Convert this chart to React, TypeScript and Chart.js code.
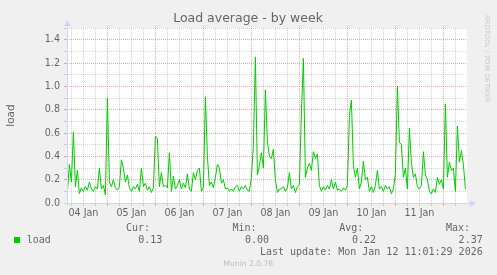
import React, { useEffect, useRef } from 'react';
import { Chart, registerables } from 'chart.js';

Chart.register(...registerables);

// first sample hour (hours after 00:00 on 04 Jan), one sample per hour
const START_HOUR = 4;
const LOAD: number[] = [
  0.09, 0.33, 0.18, 0.61, 0.14, 0.28, 0.08, 0.13, 0.10, 0.14, 0.11, 0.18,
  0.12, 0.10, 0.14, 0.12, 0.30, 0.12, 0.15, 0.07, 0.90, 0.18, 0.14, 0.20,
  0.13, 0.11, 0.14, 0.37, 0.30, 0.18, 0.24, 0.13, 0.10, 0.14, 0.12, 0.16,
  0.10, 0.30, 0.14, 0.17, 0.11, 0.14, 0.09, 0.13, 0.57, 0.55, 0.14, 0.26,
  0.14, 0.15, 0.13, 0.43, 0.10, 0.23, 0.12, 0.15, 0.20, 0.12, 0.17, 0.13,
  0.25, 0.12, 0.10, 0.26, 0.20, 0.28, 0.30, 0.10, 0.13, 0.91, 0.40, 0.15,
  0.18, 0.13, 0.22, 0.33, 0.30, 0.17, 0.20, 0.12, 0.13, 0.10, 0.12, 0.10,
  0.14, 0.15, 0.10, 0.14, 0.12, 0.15, 0.11, 0.10, 0.22, 0.50, 1.25, 0.24,
  0.32, 0.43, 0.30, 0.97, 0.53, 0.40, 0.38, 0.46, 0.20, 0.09, 0.12, 0.12,
  0.14, 0.10, 0.13, 0.26, 0.12, 0.15, 0.09, 0.14, 0.16, 0.77, 1.24, 0.22,
  0.30, 0.34, 0.28, 0.44, 0.38, 0.42, 0.15, 0.10, 0.14, 0.11, 0.15, 0.12,
  0.20, 0.12, 0.18, 0.11, 0.12, 0.10, 0.13, 0.11, 0.15, 0.75, 0.88, 0.32,
  0.22, 0.30, 0.12, 0.18, 0.36, 0.20, 0.22, 0.10, 0.14, 0.09, 0.15, 0.28,
  0.12, 0.14, 0.10, 0.15, 0.12, 0.14, 0.08, 0.12, 0.25, 1.00, 0.52, 0.50,
  0.22, 0.30, 0.12, 0.64, 0.35, 0.22, 0.25, 0.14, 0.12, 0.15, 0.44, 0.24,
  0.20, 0.10, 0.08, 0.12, 0.09, 0.22, 0.16, 0.20, 0.12, 0.85, 0.22, 0.35,
  0.28, 0.30, 0.10, 0.66, 0.35, 0.45, 0.33, 0.12,
];

const DAY_LABELS = ['04 Jan', '05 Jan', '06 Jan', '07 Jan', '08 Jan', '09 Jan', '10 Jan', '11 Jan'];
const X_MIN = 3.8;
const X_MAX = 203.8;
const Y_MIN = 0;
const Y_MAX = 1.5;

const TITLE = 'Load average - by week';
const Y_TITLE = 'load';
const SERIES_NAME = 'load';
const LEGEND_HEADERS = ['Cur:', 'Min:', 'Avg:', 'Max:'];
const LEGEND_VALUES = ['0.13', '0.00', '0.22', '2.37'];
const LAST_UPDATE = 'Last update: Mon Jan 12 11:01:29 2026';
const WATERMARK = 'RRDTOOL / TOBI OETIKER';
const VERSION = 'Munin 2.0.76';

const FONT = "'DejaVu Sans', sans-serif";
const MONO = "'DejaVu Sans Mono', monospace";
const GRID = 'rgba(143,143,143,0.38)';
const MGRID = 'rgba(222,48,48,0.42)';
const AXIS = '#CFD6F8';
const TEXT = '#666666';
const LINE = '#00CC00';

export default function App() {
  const ref = useRef<HTMLCanvasElement>(null);

  useEffect(() => {
    const canvas = ref.current;
    if (!canvas) return;

    const muninPlugin = {
      id: 'muninDecor',
      beforeDraw(chart: any) {
        const { ctx, chartArea: a, width, height } = chart;
        ctx.save();
        ctx.fillStyle = '#F0F0F0';
        ctx.fillRect(0, 0, width, height);
        ctx.fillStyle = '#FFFFFF';
        ctx.fillRect(a.left, a.top, a.right - a.left, a.bottom - a.top);
        ctx.restore();
      },
      afterDatasetsDraw(chart: any) {
        const { ctx, chartArea: a } = chart;
        ctx.save();
        ctx.fillStyle = AXIS;
        // x axis
        ctx.fillRect(a.left - 3, a.bottom, a.right - a.left + 6, 1);
        ctx.beginPath();
        ctx.moveTo(a.right + 3, a.bottom - 3);
        ctx.lineTo(a.right + 9, a.bottom + 0.5);
        ctx.lineTo(a.right + 3, a.bottom + 4);
        ctx.closePath();
        ctx.fill();
        // y axis
        ctx.fillRect(a.left, a.top - 3, 1, a.bottom - a.top + 6);
        ctx.beginPath();
        ctx.moveTo(a.left - 3, a.top - 2);
        ctx.lineTo(a.left + 0.5, a.top - 8);
        ctx.lineTo(a.left + 4, a.top - 2);
        ctx.closePath();
        ctx.fill();
        ctx.restore();
      },
      afterDraw(chart: any) {
        const { ctx } = chart;
        ctx.save();
        // title
        ctx.fillStyle = TEXT;
        ctx.font = `12.5px ${FONT}`;
        ctx.textAlign = 'center';
        ctx.textBaseline = 'middle';
        ctx.fillText(TITLE, 248, 19);

        // watermark
        ctx.save();
        ctx.translate(487, 15);
        ctx.rotate(Math.PI / 2);
        ctx.fillStyle = '#C8C8C8';
        ctx.font = `6.8px ${FONT}`;
        ctx.textAlign = 'left';
        ctx.textBaseline = 'middle';
        ctx.fillText(WATERMARK, 0, 0);
        ctx.restore();

        // legend
        ctx.font = `10px ${MONO}`;
        ctx.fillStyle = TEXT;
        ctx.textBaseline = 'middle';
        ctx.textAlign = 'right';
        const headerX = [150, 256.5, 363.3, 470];
        const valueX = [162.3, 269, 376, 482.7];
        LEGEND_HEADERS.forEach((h, i) => ctx.fillText(h, headerX[i], 228));
        LEGEND_VALUES.forEach((v, i) => ctx.fillText(v, valueX[i], 240));
        ctx.fillText(LAST_UPDATE, 482.7, 252);
        ctx.textAlign = 'left';
        ctx.fillText(SERIES_NAME, 26.7, 240);
        ctx.fillStyle = LINE;
        ctx.fillRect(14, 237, 6, 6);

        // version
        ctx.fillStyle = '#BBBBBB';
        ctx.font = `7.6px ${FONT}`;
        ctx.textAlign = 'center';
        ctx.fillText(VERSION, 248.3, 264);
        ctx.restore();
      },
    };

    const points = LOAD.map((v, i) => ({ x: START_HOUR + i, y: v }));

    const chart = new Chart(canvas, {
      type: 'line',
      data: {
        datasets: [
          {
            label: SERIES_NAME,
            data: points,
            borderColor: LINE,
            borderWidth: 1,
            pointRadius: 0,
            tension: 0,
            fill: false,
          },
        ],
      },
      options: {
        animation: false,
        responsive: false,
        devicePixelRatio: 1,
        layout: { padding: { left: 0, top: 28, right: 30, bottom: 0 } },
        plugins: { legend: { display: false }, tooltip: { enabled: false }, title: { display: false } },
        scales: {
          x: {
            type: 'linear',
            min: X_MIN,
            max: X_MAX,
            afterBuildTicks: (scale: any) => {
              const t: { value: number }[] = [];
              for (let v = Math.ceil(scale.min / 6) * 6; v <= scale.max; v += 6) t.push({ value: v });
              scale.ticks = t;
            },
            afterFit: (scale: any) => {
              scale.height = 72;
            },
            border: { display: false, dash: [1, 1] },
            grid: {
              color: (c: any) => (c.tick && c.tick.value % 24 === 0 ? MGRID : GRID),
              tickColor: (c: any) => (c.tick && c.tick.value % 24 === 0 ? MGRID : GRID),
              lineWidth: 1,
              drawTicks: true,
              tickLength: 3,
            },
            ticks: {
              autoSkip: false,
              maxRotation: 0,
              minRotation: 0,
              padding: 2,
              color: TEXT,
              font: { family: FONT, size: 9.6 },
              callback: (value: any) => {
                const v = Number(value);
                if (v % 24 === 12) return DAY_LABELS[(v - 12) / 24] ?? '';
                return '';
              },
            },
          },
          y: {
            type: 'linear',
            min: Y_MIN,
            max: Y_MAX,
            afterBuildTicks: (scale: any) => {
              const t: { value: number }[] = [];
              for (let i = 0; i <= 15; i++) t.push({ value: i / 10 });
              scale.ticks = t;
            },
            afterFit: (scale: any) => {
              scale.width = 67;
            },
            border: { display: false, dash: [1, 1] },
            grid: {
              color: (c: any) => (c.tick && Math.round(c.tick.value * 10) % 2 === 0 ? MGRID : GRID),
              tickColor: (c: any) => (c.tick && Math.round(c.tick.value * 10) % 2 === 0 ? MGRID : GRID),
              lineWidth: 1,
              drawTicks: true,
              tickLength: 3,
            },
            title: {
              display: true,
              text: Y_TITLE,
              color: TEXT,
              font: { family: FONT, size: 10.5 },
              padding: { top: 5, bottom: 0 },
            },
            ticks: {
              autoSkip: false,
              padding: 4,
              color: TEXT,
              font: { family: FONT, size: 9.6 },
              callback: (value: any) => {
                const v = Number(value);
                return Math.round(v * 10) % 2 === 0 && v < 1.45 ? v.toFixed(1) : '';
              },
            },
          },
        },
      },
      plugins: [muninPlugin],
    } as any);

    return () => chart.destroy();
  }, []);

  return (
    <div style={{ position: 'absolute', left: 0, top: 0, width: 497, height: 275 }}>
      <canvas ref={ref} width={497} height={275} style={{ display: 'block', width: 497, height: 275 }} />
    </div>
  );
}
